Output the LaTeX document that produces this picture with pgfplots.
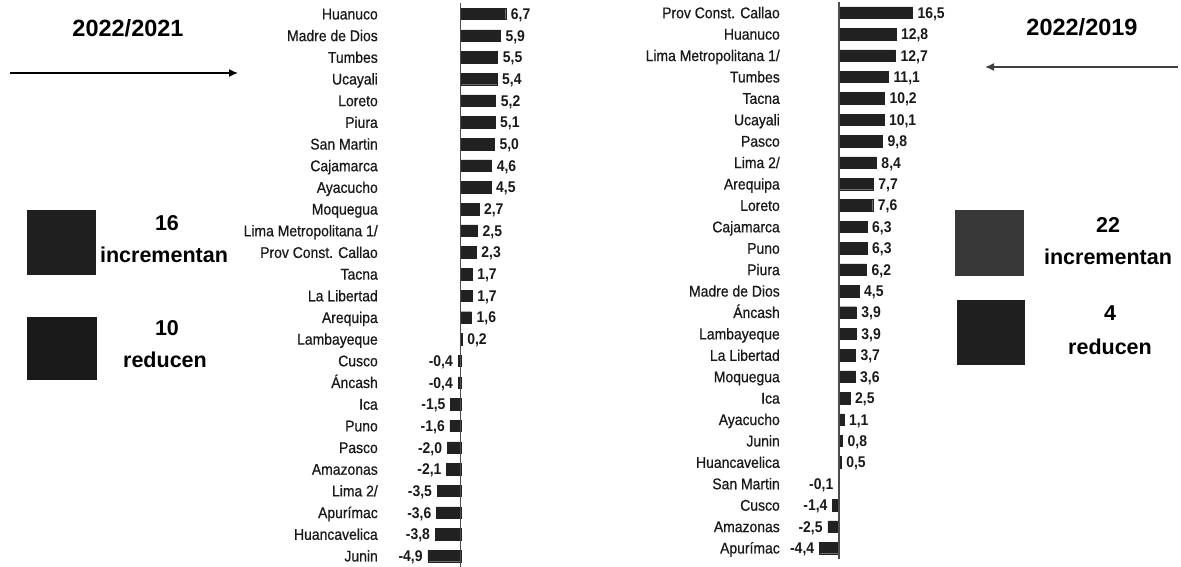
\documentclass[border=0pt]{standalone}
\usepackage{pgfplots}
\pgfplotsset{compat=1.18}
\usepackage{pgfplotstable}
\usetikzlibrary{arrows.meta}
\usepackage{fontspec}
\setmainfont{Liberation Sans}
\newfontfamily\narrow[FakeStretch=0.9]{Liberation Sans}
\newfontfamily\narrowlab[FakeStretch=0.9, FakeBold=0.6]{Liberation Sans}
\definecolor{barc}{gray}{0.13}

% 2022/2021
\pgfplotstableread[col sep=semicolon]{
i;v;t;name
0;6.7;6,7;Huanuco
1;5.9;5,9;Madre de Dios
2;5.5;5,5;Tumbes
3;5.4;5,4;Ucayali
4;5.2;5,2;Loreto
5;5.1;5,1;Piura
6;5.0;5,0;San Martin
7;4.6;4,6;Cajamarca
8;4.5;4,5;Ayacucho
9;2.7;2,7;Moquegua
10;2.5;2,5;Lima Metropolitana 1/
11;2.3;2,3;Prov Const. Callao
12;1.7;1,7;Tacna
13;1.7;1,7;La Libertad
14;1.6;1,6;Arequipa
15;0.2;0,2;Lambayeque
16;-0.4;-0,4;Cusco
17;-0.4;-0,4;Áncash
18;-1.5;-1,5;Ica
19;-1.6;-1,6;Puno
20;-2.0;-2,0;Pasco
21;-2.1;-2,1;Amazonas
22;-3.5;-3,5;Lima 2/
23;-3.6;-3,6;Apurímac
24;-3.8;-3,8;Huancavelica
25;-4.9;-4,9;Junin
}\lefttab

% 2022/2019
\pgfplotstableread[col sep=semicolon]{
i;v;t;name
0;16.5;16,5;Prov Const. Callao
1;12.8;12,8;Huanuco
2;12.7;12,7;Lima Metropolitana 1/
3;11.1;11,1;Tumbes
4;10.2;10,2;Tacna
5;10.1;10,1;Ucayali
6;9.8;9,8;Pasco
7;8.4;8,4;Lima 2/
8;7.7;7,7;Arequipa
9;7.6;7,6;Loreto
10;6.3;6,3;Cajamarca
11;6.3;6,3;Puno
12;6.2;6,2;Piura
13;4.5;4,5;Madre de Dios
14;3.9;3,9;Áncash
15;3.9;3,9;Lambayeque
16;3.7;3,7;La Libertad
17;3.6;3,6;Moquegua
18;2.5;2,5;Ica
19;1.1;1,1;Ayacucho
20;0.8;0,8;Junin
21;0.5;0,5;Huancavelica
22;-0.1;-0,1;San Martin
23;-1.4;-1,4;Cusco
24;-2.5;-2,5;Amazonas
25;-4.4;-4,4;Apurímac
}\righttab

\pgfplotsset{
  regbar/.style={
    xbar, bar width=11.5pt, bar shift=0pt, scale only axis, anchor=south west,
    y dir=reverse, ymin=-0.5, ymax=25.5, ytick={0,...,25},
    axis x line=none, axis y line*=left, y axis line style={draw=none},
    major tick length=0pt, xtick=\empty,
    yticklabel style={font=\narrowlab\fontsize{15.5}{17}\selectfont, inner sep=0pt,
      text height=12pt, text depth=1pt, text=black!90},
    point meta=explicit symbolic,
    every node near coord/.append style={font=\narrow\bfseries\fontsize{15.5}{17}\selectfont,
      inner sep=5pt, text height=12pt, text depth=1pt, text=black!90},
    clip=false,
  },
  pos/.style={fill=barc, draw=barc, bar shift=0pt, restrict x to domain=0:40,
    nodes near coords={\pgfplotspointmeta}, nodes near coords style={anchor=west}},
  neg/.style={fill=barc, draw=barc, bar shift=0pt, restrict x to domain=-40:-0.01,
    nodes near coords={\pgfplotspointmeta}, nodes near coords style={anchor=east}},
}

\begin{document}
\begin{tikzpicture}
\useasboundingbox[fill=white] (0,0) rectangle (1181pt,567pt);

\begin{axis}[regbar,
  at={(378pt,0.2pt)}, width=143.2pt, height=563.7pt,
  xmin=-12.31, xmax=9,
  yticklabels from table={\lefttab}{name}]
\addplot[pos] table[x=v, y=i, meta=t] {\lefttab};
\addplot[neg] table[x=v, y=i, meta=t] {\lefttab};
\draw[line width=1.3pt, black!70] (axis cs:0,-0.5) -- (axis cs:0,25.5);
\end{axis}

\begin{axis}[regbar,
  at={(780pt,8.3pt)}, width=165.7pt, height=556.7pt,
  xmin=-13.24, xmax=24,
  yticklabels from table={\righttab}{name}]
\addplot[pos] table[x=v, y=i, meta=t] {\righttab};
\addplot[neg] table[x=v, y=i, meta=t] {\righttab};
\draw[line width=1.3pt, black!70] (axis cs:0,-0.5) -- (axis cs:0,25.5);
\end{axis}

% titles and arrows
\node[font=\bfseries\fontsize{23.5}{26}\selectfont] at (128pt,539pt) {2022/2021};
\node[font=\bfseries\fontsize{23.5}{26}\selectfont] at (1082pt,540pt) {2022/2019};
\draw[line width=1.4pt, -{Latex[length=9pt,width=8pt]}] (10pt,494pt) -- (238pt,494pt);
\draw[line width=1.4pt, black!75, -{Latex[length=9pt,width=8pt]}] (1178pt,500pt) -- (985pt,500pt);

% counters
\fill[black!88] (27pt,292pt) rectangle (96pt,357pt);
\fill[black!90] (27pt,187pt) rectangle (97pt,250pt);
\node[font=\bfseries\fontsize{21.5}{24}\selectfont] at (167pt,344pt) {16};
\node[font=\bfseries\fontsize{21.5}{24}\selectfont] at (164pt,312pt) {incrementan};
\node[font=\bfseries\fontsize{21.5}{24}\selectfont] at (167pt,239pt) {10};
\node[font=\bfseries\fontsize{21.5}{24}\selectfont] at (165pt,207pt) {reducen};

\fill[black!78] (955pt,291pt) rectangle (1024pt,357pt);
\fill[black!88] (957pt,202pt) rectangle (1025pt,267pt);
\node[font=\bfseries\fontsize{21.5}{24}\selectfont] at (1108pt,342pt) {22};
\node[font=\bfseries\fontsize{21.5}{24}\selectfont] at (1108pt,310pt) {incrementan};
\node[font=\bfseries\fontsize{21.5}{24}\selectfont] at (1110pt,254pt) {4};
\node[font=\bfseries\fontsize{21.5}{24}\selectfont] at (1110pt,220pt) {reducen};
\end{tikzpicture}
\end{document}
